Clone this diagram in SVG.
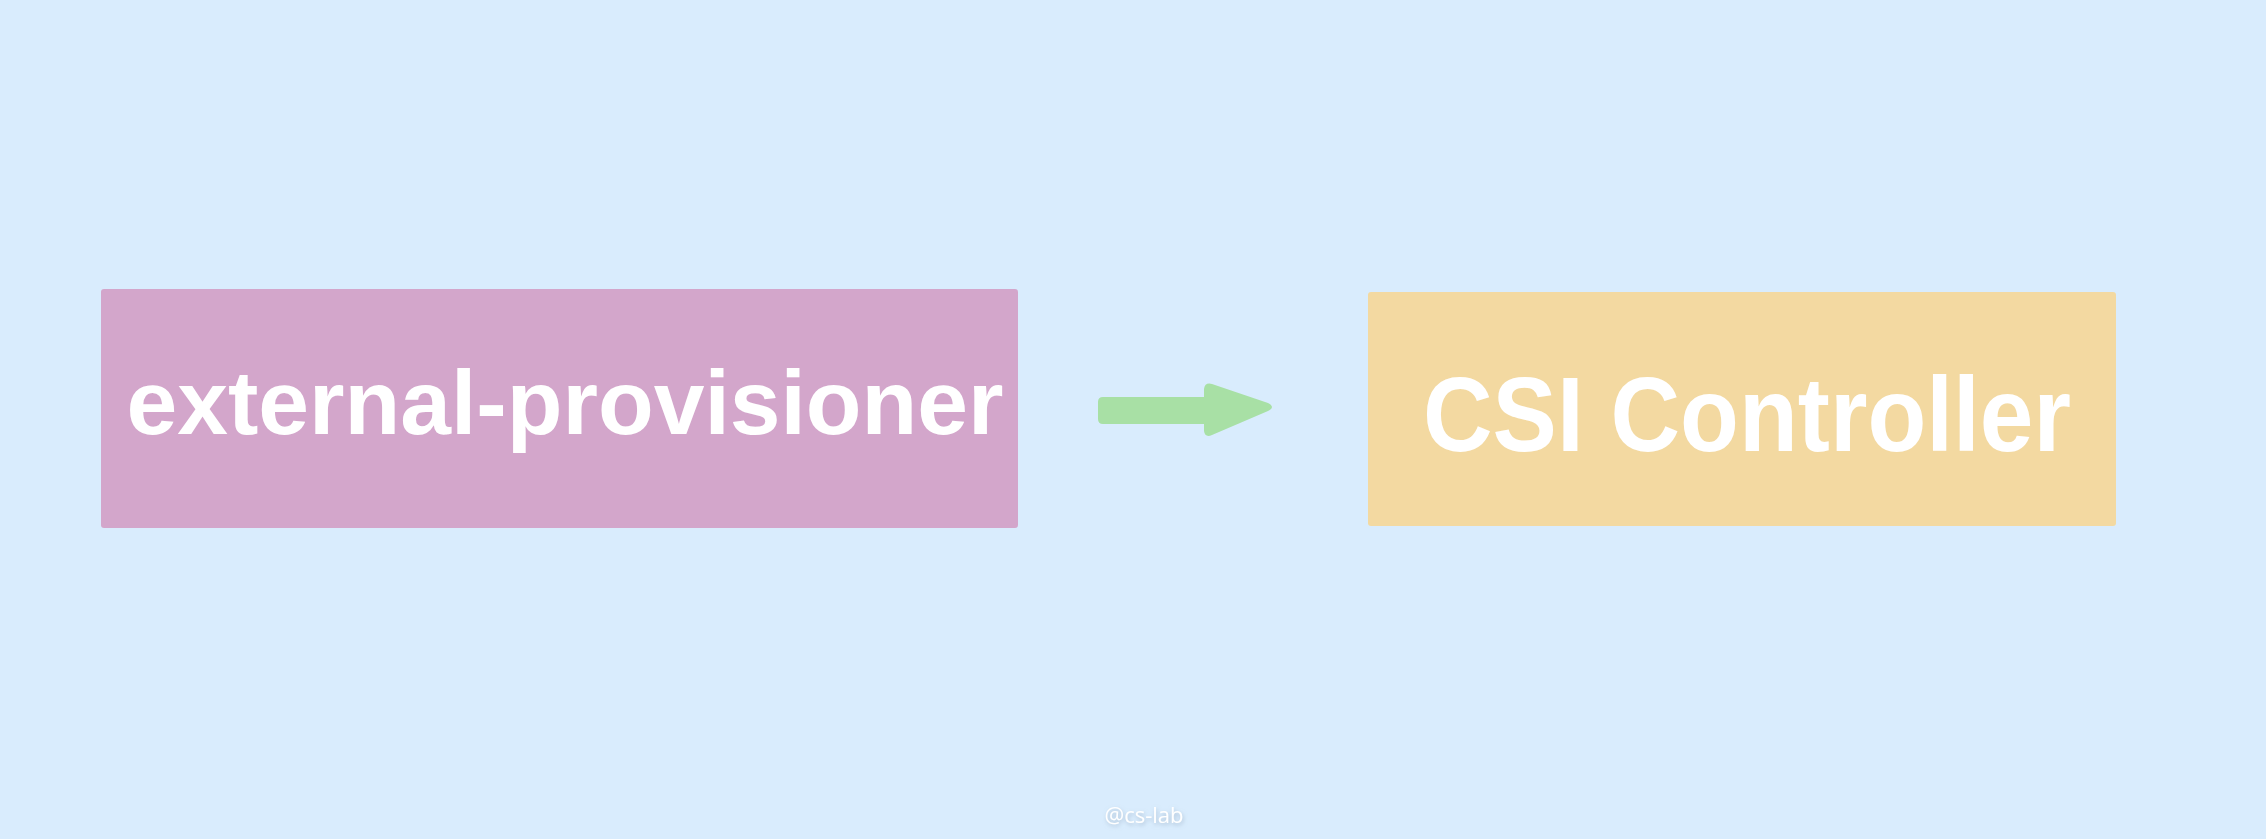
<svg xmlns="http://www.w3.org/2000/svg" width="2266" height="839" viewBox="0 0 2266 839">
  <style>
    .label { font-family: "Comic Sans MS", "Liberation Sans", "DejaVu Sans", sans-serif; font-weight: bold; fill: #ffffff; text-anchor: middle; }
    .wm { font-family: "Open Sans", "Liberation Sans", sans-serif; fill: #ffffff; text-anchor: middle; font-size: 22px; }
  </style>
  <defs>
    <filter id="sh" x="-20%" y="-50%" width="140%" height="200%">
      <feDropShadow dx="1" dy="2" stdDeviation="2" flood-color="#8aa0b8" flood-opacity="0.6"/>
    </filter>
  </defs>
  <rect x="0" y="0" width="2266" height="839" fill="#d9ecfd"/>
  <g id="node-external-provisioner">
    <rect x="101" y="289" width="917" height="239" rx="3" fill="#d3a6cb"/>
    <text class="label" x="565" y="434" font-size="90" textLength="877" lengthAdjust="spacingAndGlyphs">external-provisioner</text>
  </g>
  <g id="node-csi-controller">
    <rect x="1368" y="292" width="748" height="234" rx="3" fill="#f3d9a1"/>
    <text class="label" x="1747" y="451" font-size="106" textLength="648" lengthAdjust="spacingAndGlyphs">CSI Controller</text>
  </g>
  <g id="connectors">
    <path d="M1103 397 L1204 397 L1204 389 Q1205 382 1212 384 L1268 403 Q1276 407 1268 411 L1212 435 Q1205 438 1204 431 L1204 424 L1103 424 Q1098 424 1098 419 L1098 402 Q1098 397 1103 397 Z" fill="#a8e0a5"/>
  </g>
  <text class="wm" x="1144" y="823" filter="url(#sh)">@cs-lab</text>
</svg>
